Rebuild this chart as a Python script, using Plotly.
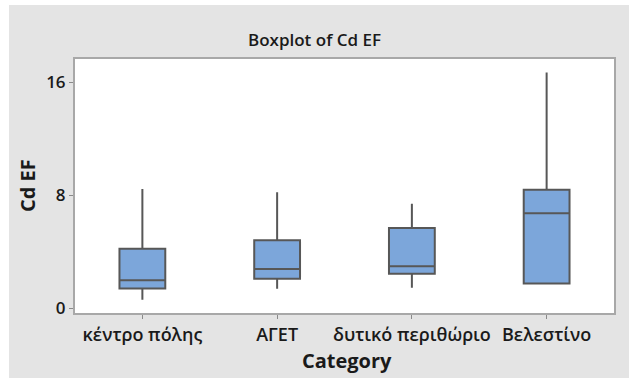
import plotly.graph_objects as go

# Five-number summaries of Cd enrichment factor per sampling area
categories = ["κέντρο πόλης", "ΑΓΕΤ", "δυτικό περιθώριο", "Βελεστίνο"]
lower_whisker = [0.61, 1.39, 1.46, 1.76]
q1_values = [1.41, 2.10, 2.45, 1.76]
medians = [2.00, 2.80, 2.99, 6.73]
q3_values = [4.23, 4.82, 5.69, 8.40]
upper_whisker = [8.45, 8.21, 7.41, 16.68]
y_ticks = [0, 8, 16]

W, H = 629, 378
ML, MR, MT, MB = 75, 15, 59, 65
PW, PH = W - ML - MR, H - MT - MB

FONT = "Open Sans, Noto Sans, sans-serif"
TEXT = "#1a1a1a"
BOX_FILL = "#7ca6da"
BOX_LINE = "#575757"
FRAME = "#a8a8a8"
PANEL = "#e4e4e4"

fig = go.Figure()
for i, cat in enumerate(categories):
    fig.add_trace(go.Box(
        x=[cat],
        q1=[q1_values[i]],
        median=[medians[i]],
        q3=[q3_values[i]],
        lowerfence=[lower_whisker[i]],
        upperfence=[upper_whisker[i]],
        width=0.34,
        whiskerwidth=0,
        fillcolor=BOX_FILL,
        line=dict(color=BOX_LINE, width=2),
        boxpoints=False,
        hoverinfo="skip",
        showlegend=False,
    ))


def px_x(px):
    return (px - ML) / PW


def px_y(py):
    return (H - MB - py) / PH


# thin white border on the top and left of the grey panel
shapes = [
    dict(type="rect", xref="paper", yref="paper",
         x0=px_x(0), x1=px_x(9), y0=px_y(H), y1=px_y(0),
         fillcolor="white", line=dict(width=0), layer="below"),
    dict(type="rect", xref="paper", yref="paper",
         x0=px_x(0), x1=px_x(W), y0=px_y(5), y1=px_y(0),
         fillcolor="white", line=dict(width=0), layer="below"),
]

annotations = [
    dict(text="Cd EF", xref="paper", yref="paper",
         x=px_x(27), y=px_y(186), textangle=-90, showarrow=False,
         xanchor="center", yanchor="middle",
         font=dict(family=FONT, size=20, weight=700, color=TEXT)),
    dict(text="Category", xref="paper", yref="paper",
         x=px_x(347), y=px_y(360), showarrow=False,
         xanchor="center", yanchor="middle",
         font=dict(family=FONT, size=20, weight=700, color=TEXT)),
]

fig.update_layout(
    width=W, height=H,
    margin=dict(l=ML, r=MR, t=MT, b=MB, pad=0),
    paper_bgcolor=PANEL,
    plot_bgcolor="white",
    title=dict(text="Boxplot of Cd EF", x=0.5, xref="container", xanchor="center",
               y=1 - 40 / H, yref="container", yanchor="middle",
               font=dict(family=FONT, size=17, weight=600, color=TEXT)),
    shapes=shapes,
    annotations=annotations,
    xaxis=dict(
        type="category", categoryorder="array", categoryarray=categories,
        range=[-0.5, 3.5],
        showline=True, linecolor=FRAME, linewidth=2, mirror=True,
        showgrid=False, zeroline=False,
        ticks="outside", ticklen=4, tickcolor="#8a8a8a", tickwidth=1,
        tickfont=dict(family=FONT, size=18, weight=600, color=TEXT),
    ),
    yaxis=dict(
        range=[-0.32, 17.64],
        tickvals=y_ticks, ticktext=[str(v) for v in y_ticks],
        showline=True, linecolor=FRAME, linewidth=2, mirror=True,
        showgrid=False, zeroline=False,
        ticks="outside", ticklen=4, tickcolor="#8a8a8a", tickwidth=1,
        tickfont=dict(family=FONT, size=17, weight=600, color=TEXT),
    ),
)

fig.write_html("out.html")
